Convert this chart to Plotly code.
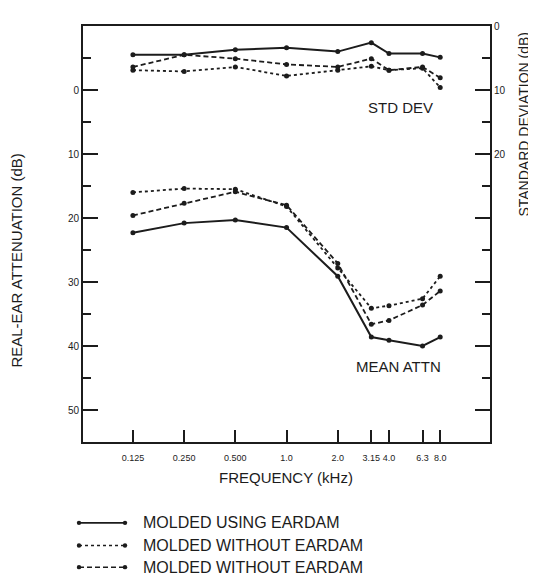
import plotly.graph_objects as go
import math

# ---------------- data ----------------
freq_khz = [0.125, 0.25, 0.5, 1.0, 2.0, 3.15, 4.0, 6.3, 8.0]
freq_labels = ["0.125", "0.250", "0.500", "1.0", "2.0", "3.15", "4.0", "6.3", "8.0"]

# mean real-ear attenuation (dB), left axis
attn_using_eardam = [22.3, 20.8, 20.3, 21.5, 29.1, 38.6, 39.1, 40.0, 38.6]
attn_without_dotted = [16.0, 15.4, 15.5, 18.2, 27.8, 34.1, 33.7, 32.6, 29.1]
attn_without_dashed = [19.6, 17.7, 15.9, 18.0, 27.1, 36.6, 36.0, 33.6, 31.4]

# standard deviation (dB), right axis
sd_using_eardam = [4.5, 4.5, 3.7, 3.4, 4.0, 2.6, 4.3, 4.3, 4.9]
sd_without_dotted = [6.9, 7.1, 6.4, 7.8, 6.9, 6.3, 6.9, 6.6, 9.6]
sd_without_dashed = [6.4, 4.5, 5.1, 6.0, 6.4, 5.1, 6.9, 6.4, 8.1]

left_ticks = [0, 10, 20, 30, 40, 50]
right_ticks = [0, 10, 20, 30, 40, 50, 60]
right_ticktext = ["0", "10", "20", "", "", "", ""]

legend_labels = ["MOLDED USING EARDAM", "MOLDED WITHOUT EARDAM", "MOLDED WITHOUT EARDAM"]
legend_dash = ["solid", "dot", "dash"]

# ---------------- figure ----------------
OFF = 8                      # default page body margin
W, H = 536 - OFF, 578 - OFF  # figure size
# plot box in page pixels: x 83..490, y 20..442
L, R, T, B = 83 - OFF, 536 - 490, 20 - OFF, 578 - 442
PW, PH = W - L - R, H - T - B
INK = "#1c1c1c"
FONT = "Liberation Sans, Arial, sans-serif"


def px_x(x):
    return (x - OFF - L) / PW


def px_y(y):
    return (T + PH - (y - OFF)) / PH


fig = go.Figure()

styles = [("solid", 2.0), ("dot", 1.8), ("5px,3px", 1.8)]
mean_series = [attn_using_eardam, attn_without_dotted, attn_without_dashed]
sd_series = [sd_using_eardam, sd_without_dotted, sd_without_dashed]

for (dash, w), ys in zip(styles, mean_series):
    fig.add_trace(go.Scatter(x=freq_khz, y=ys, mode="lines+markers",
                             line=dict(color=INK, width=w, dash=dash),
                             marker=dict(color=INK, size=5), showlegend=False,
                             yaxis="y"))
for (dash, w), ys in zip(styles, sd_series):
    fig.add_trace(go.Scatter(x=freq_khz, y=ys, mode="lines+markers",
                             line=dict(color=INK, width=w, dash=dash),
                             marker=dict(color=INK, size=5), showlegend=False,
                             yaxis="y2"))

fig.update_layout(
    width=W, height=H,
    margin=dict(l=L, r=R, t=T, b=B, pad=0),
    paper_bgcolor="white", plot_bgcolor="white",
    font=dict(family=FONT, color=INK),
    xaxis=dict(type="log", range=[math.log10(0.0636), math.log10(15.7)],
               tickmode="array", tickvals=freq_khz, ticktext=freq_labels,
               tickangle=0, ticklabelstandoff=6,
               ticks="inside", ticklen=12, tickwidth=1.5, tickcolor=INK,
               tickfont=dict(size=9, color=INK),
               showline=True, linecolor=INK, linewidth=2, mirror=True,
               showgrid=False, zeroline=False),
    yaxis=dict(range=[55, -10], tickmode="array", tickvals=left_ticks,
               ticks="inside", ticklen=15, tickwidth=2, tickcolor=INK,
               tickfont=dict(size=10, color=INK),
               minor=dict(tickmode="array", tickvals=[-5, 5, 15, 25, 35, 45],
                          ticks="inside", ticklen=8, tickwidth=2, tickcolor=INK),
               showline=True, linecolor=INK, linewidth=2,
               showgrid=False, zeroline=False),
    yaxis2=dict(range=[65, 0], overlaying="y", side="right",
                tickmode="array", tickvals=right_ticks, ticktext=right_ticktext,
                ticks="inside", ticklen=15, tickwidth=2, tickcolor=INK,
                tickfont=dict(size=10, color=INK),
                minor=dict(tickmode="array", tickvals=[5, 15, 25, 35, 45, 55],
                           ticks="inside", ticklen=8, tickwidth=2, tickcolor=INK),
                showline=True, linecolor=INK, linewidth=2,
                showgrid=False, zeroline=False),
)

ann = []
ann.append(dict(text="STD DEV", x=px_x(400), y=px_y(103), font=dict(size=15)))
ann.append(dict(text="MEAN ATTN", x=px_x(398), y=px_y(365), font=dict(size=15)))
ann.append(dict(text="FREQUENCY (kHz)", x=px_x(286), y=px_y(478), font=dict(size=15)))
ann.append(dict(text="REAL-EAR ATTENUATION (dB)", x=px_x(17), y=px_y(258),
                textangle=-90, font=dict(size=15)))
ann.append(dict(text="STANDARD DEVIATION (dB)", x=px_x(524), y=px_y(120),
                textangle=-90, font=dict(size=14)))

rows = [524, 547, 569]
shapes = []
for lab, dash, yrow in zip(legend_labels, legend_dash, rows):
    shapes.append(dict(type="line", xref="paper", yref="paper",
                       x0=px_x(79), x1=px_x(125), y0=px_y(yrow), y1=px_y(yrow),
                       line=dict(color=INK, width=1.8 if dash == "solid" else 1.5,
                                 dash=dash if dash != "dash" else "5px,3px")))
    for cx in (79, 125):
        shapes.append(dict(type="circle", xref="paper", yref="paper",
                           x0=px_x(cx - 2.2), x1=px_x(cx + 2.2),
                           y0=px_y(yrow + 2.2), y1=px_y(yrow - 2.2),
                           fillcolor=INK, line=dict(width=0)))
    ann.append(dict(text=lab, x=px_x(141), y=px_y(yrow), xanchor="left",
                    font=dict(size=16)))

for a in ann:
    a.setdefault("xref", "paper")
    a.setdefault("yref", "paper")
    a.setdefault("showarrow", False)
    a.setdefault("xanchor", "center")
    a.setdefault("yanchor", "middle")

fig.update_layout(annotations=ann, shapes=shapes)

fig.write_html("out.html")
